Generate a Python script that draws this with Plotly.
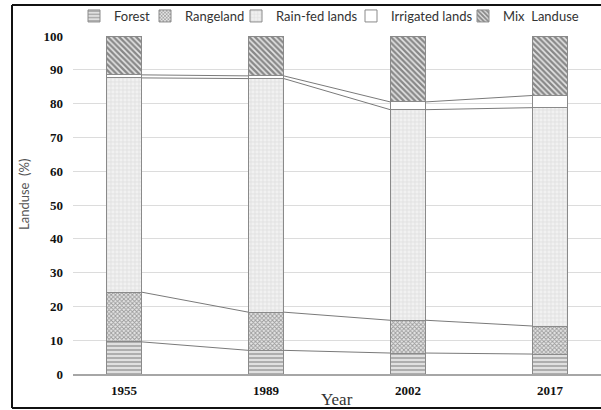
import plotly.graph_objects as go

years = ["1955", "1989", "2002", "2017"]
forest = [9.5, 7.0, 6.2, 5.9]
rangeland = [14.7, 11.3, 9.7, 8.3]
rainfed = [63.4, 69.1, 62.3, 64.6]
irrigated = [0.9, 0.8, 2.3, 3.6]
mix = [11.5, 11.8, 19.5, 17.6]
y_ticks = [0, 10, 20, 30, 40, 50, 60, 70, 80, 90, 100]

names = ["Forest", "Rangeland", "Rain-fed lands", "Irrigated lands", "Mix  Landuse"]
series = [forest, rangeland, rainfed, irrigated, mix]
patterns = [
    dict(shape="-", fgcolor="#707070", bgcolor="#e0e0e0", size=4, solidity=0.45),
    dict(shape="x", fgcolor="#4e4e4e", bgcolor="#e6e6e6", size=3, solidity=0.5),
    dict(shape="+", fgcolor="#c6c6c6", bgcolor="#f1f1f1", size=4, solidity=0.3),
    dict(shape="", fgcolor="#ffffff", bgcolor="#ffffff"),
    dict(shape="\\", fgcolor="#2a2a2a", bgcolor="#e6e6e6", size=4, solidity=0.6),
]

W = 0.25
xpos = list(range(len(years)))

L, T, B = 73, 36, 36
PW, PH = 601 - L, 410 - T - B


def px_x(p):
    return (p - L) / PW


def px_y(p):
    return (410 - B - p) / PH


legend_ids = ["legend", "legend2", "legend3", "legend4", "legend5"]
legend_left = [74, 145, 236, 351, 463]

fig = go.Figure()
for name, vals, pat, lid in zip(names, series, patterns, legend_ids):
    fig.add_trace(go.Bar(
        x=xpos, y=vals, name=name, width=W, legend=lid,
        marker=dict(color="white", pattern=pat, line=dict(color="#8a8a8a", width=1)),
    ))

# connector lines between tops of stacked segments
cum = [0.0] * len(years)
for vals in series[:4]:
    cum = [c + v for c, v in zip(cum, vals)]
    lx, ly = [], []
    for i in range(len(years) - 1):
        lx += [xpos[i] + W / 2, xpos[i + 1] - W / 2, None]
        ly += [cum[i], cum[i + 1], None]
    fig.add_trace(go.Scatter(x=lx, y=ly, mode="lines", showlegend=False,
                             line=dict(color="#7a7a7a", width=1), hoverinfo="skip"))

legend_layout = {}
for lid, left in zip(legend_ids, legend_left):
    legend_layout[lid] = dict(
        orientation="h", x=px_x(left), y=px_y(1), xanchor="left", yanchor="top",
        font=dict(family="Lato", size=13, color="#333333"),
        itemwidth=30, bgcolor="rgba(0,0,0,0)",
    )

fig.update_layout(
    width=601, height=410,
    margin=dict(l=L, r=0, t=T, b=B),
    barmode="stack",
    plot_bgcolor="white", paper_bgcolor="white",
    showlegend=True,
    xaxis=dict(range=[-0.36, 3.36], tickvals=xpos, ticktext=years,
               showgrid=False, zeroline=False, showline=True,
               linecolor="#a6a6a6", linewidth=1.5, ticks="",
               tickfont=dict(family="Liberation Serif", size=13, color="#111111", weight="bold"),
               ticklabelstandoff=4),
    yaxis=dict(range=[0, 100], tickvals=y_ticks, showgrid=True, gridcolor="#dcdcdc",
               gridwidth=1, zeroline=False, showline=False, ticks="",
               tickfont=dict(family="Liberation Serif", size=13, color="#111111", weight="bold"),
               ticklabelstandoff=9),
    annotations=[
        dict(text="Landuse  (%)", xref="paper", yref="paper", x=px_x(24), y=px_y(195),
             textangle=-90, showarrow=False, xanchor="center", yanchor="middle",
             font=dict(family="Lato", size=13, color="#555555")),
        dict(text="Year", xref="paper", yref="paper", x=px_x(337), y=px_y(399),
             showarrow=False, xanchor="center", yanchor="middle",
             font=dict(family="Liberation Serif", size=17, color="#333333")),
    ],
    shapes=[
        dict(type="line", xref="paper", yref="paper", x0=px_x(12), x1=px_x(12),
             y0=px_y(5), y1=px_y(408), line=dict(color="#111111", width=2)),
        dict(type="line", xref="paper", yref="paper", x0=px_x(12), x1=px_x(601),
             y0=px_y(5), y1=px_y(5), line=dict(color="#111111", width=2)),
        dict(type="line", xref="paper", yref="paper", x0=px_x(12), x1=px_x(601),
             y0=px_y(408), y1=px_y(408), line=dict(color="#111111", width=2)),
    ],
    **legend_layout,
)

fig.write_html("out.html", config={"displayModeBar": False},
               post_script="document.body.style.margin='0px';document.body.style.overflow='hidden';")
